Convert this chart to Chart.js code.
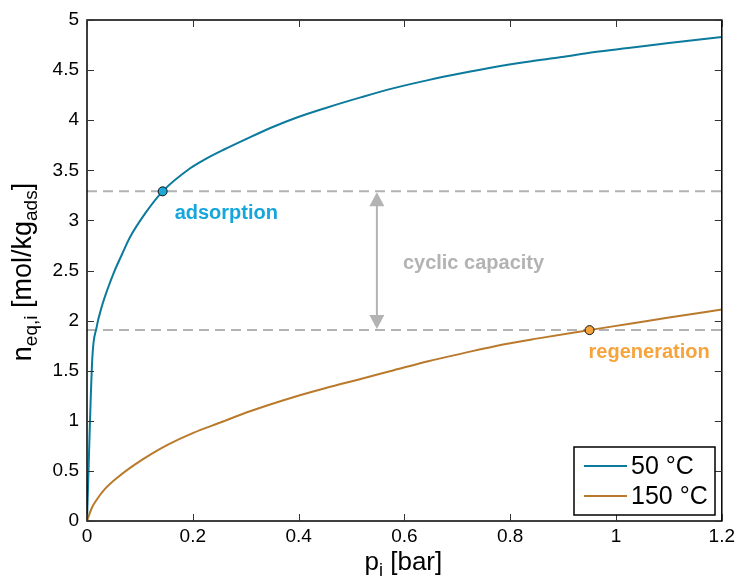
<!DOCTYPE html>
<html>
<head>
<meta charset="utf-8">
<script src="https://cdn.jsdelivr.net/npm/chart.js@4/dist/chart.umd.min.js"></script>
<style>
  html, body { margin: 0; padding: 0; background: #fff; }
  #wrap { width: 739px; height: 579px; position: relative; }
</style>
</head>
<body>
<div id="wrap"><canvas id="chart"></canvas></div>
<script>
// isotherm at 50 °C (pressure in bar, loading in mol/kg)
const p50 = [0, 0.01, 0.018, 0.028, 0.04, 0.05, 0.066, 0.081, 0.11, 0.143, 0.195, 0.223, 0.26, 0.3, 0.35, 0.393, 0.45, 0.519, 0.58, 0.645, 0.71, 0.771, 0.83, 0.897, 0.96, 1.023, 1.1, 1.2];
const n50 = [0, 1.62, 1.93, 2.14, 2.33, 2.47, 2.66, 2.83, 3.07, 3.29, 3.52, 3.61, 3.71, 3.81, 3.93, 4.02, 4.12, 4.23, 4.32, 4.40, 4.47, 4.53, 4.58, 4.63, 4.68, 4.72, 4.77, 4.83];

// isotherm at 150 °C
const p150 = [0, 0.009, 0.018, 0.034, 0.059, 0.091, 0.122, 0.154, 0.201, 0.248, 0.311, 0.393, 0.45, 0.519, 0.58, 0.645, 0.71, 0.771, 0.85, 0.949, 1.023, 1.1, 1.2];
const n150 = [0, 0.13, 0.21, 0.32, 0.44, 0.565, 0.67, 0.765, 0.88, 0.975, 1.10, 1.24, 1.325, 1.42, 1.505, 1.595, 1.673, 1.745, 1.82, 1.905, 1.966, 2.03, 2.11];

// operating points
const adsPoint = { p: 0.143, n: 3.29 };
const regPoint = { p: 0.95, n: 1.905 };
const arrowP = 0.548;

const xTicks = [0, 0.2, 0.4, 0.6, 0.8, 1, 1.2];
const yTicks = [0, 0.5, 1, 1.5, 2, 2.5, 3, 3.5, 4, 4.5, 5];

const blue = "#0b7a9c";
const brown = "#b97a2c";
const grey = "#b3b3b3";
const FONT = "'Liberation Sans', Arial, sans-serif";

const toXY = (xs, ys) => xs.map((x, i) => ({ x: x, y: ys[i] }));

// frame, inward ticks, arrow, text labels, legend and axis titles
const decor = {
  id: "decor",
  afterDatasetsDraw(chart) {
    const { ctx, chartArea: a, scales: { x, y } } = chart;
    ctx.save();

    // double arrow for cyclic capacity
    const ax = x.getPixelForValue(arrowP);
    const yTop = y.getPixelForValue(adsPoint.n);
    const yBot = y.getPixelForValue(regPoint.n);
    ctx.strokeStyle = grey; ctx.fillStyle = grey; ctx.lineWidth = 2;
    ctx.beginPath(); ctx.moveTo(ax, yTop + 12); ctx.lineTo(ax, yBot - 12); ctx.stroke();
    ctx.beginPath(); ctx.moveTo(ax, yTop + 1); ctx.lineTo(ax - 7.5, yTop + 15); ctx.lineTo(ax + 7.5, yTop + 15); ctx.closePath(); ctx.fill();
    ctx.beginPath(); ctx.moveTo(ax, yBot - 1); ctx.lineTo(ax - 7.5, yBot - 15); ctx.lineTo(ax + 7.5, yBot - 15); ctx.closePath(); ctx.fill();

    ctx.font = "bold 20px " + FONT;
    ctx.textBaseline = "middle";
    ctx.textAlign = "left";
    ctx.fillText("cyclic capacity", ax + 26, y.getPixelForValue(2.57));
    ctx.fillStyle = "#15a6db";
    ctx.fillText("adsorption", x.getPixelForValue(adsPoint.p) + 12, yTop + 22);
    ctx.fillStyle = "#f7a33c";
    ctx.fillText("regeneration", x.getPixelForValue(regPoint.p) - 1, yBot + 22);

    // box
    ctx.strokeStyle = "#000"; ctx.lineWidth = 1.5;
    ctx.strokeRect(a.left, a.top, a.right - a.left, a.bottom - a.top);

    // inward ticks on all four sides
    ctx.lineWidth = 1;
    ctx.strokeStyle = "#333";
    ctx.beginPath();
    xTicks.forEach(v => {
      const px = Math.round(x.getPixelForValue(v)) + 0.5;
      ctx.moveTo(px, a.bottom); ctx.lineTo(px, a.bottom - 7);
      ctx.moveTo(px, a.top); ctx.lineTo(px, a.top + 7);
    });
    yTicks.forEach(v => {
      const py = Math.round(y.getPixelForValue(v)) + 0.5;
      ctx.moveTo(a.left, py); ctx.lineTo(a.left + 7, py);
      ctx.moveTo(a.right, py); ctx.lineTo(a.right - 7, py);
    });
    ctx.stroke();

    // legend (from the two isotherm datasets)
    const items = chart.data.datasets.filter(d => d.inLegend);
    const lx = 574, ly = 447, lw = 141, lh = 68;
    ctx.fillStyle = "#fff";
    ctx.fillRect(lx, ly, lw, lh);
    ctx.strokeStyle = "#000"; ctx.lineWidth = 1.5;
    ctx.strokeRect(lx, ly, lw, lh);
    ctx.font = "25px " + FONT;
    ctx.textAlign = "left";
    items.forEach((d, i) => {
      const cy = ly + 19 + i * 30;
      ctx.strokeStyle = d.borderColor; ctx.lineWidth = 2;
      ctx.beginPath(); ctx.moveTo(lx + 10, cy); ctx.lineTo(lx + 53, cy); ctx.stroke();
      ctx.fillStyle = "#000";
      ctx.fillText(d.label, lx + 57, cy + 1);
    });

    // x axis title with subscript
    ctx.fillStyle = "#000";
    ctx.textBaseline = "alphabetic";
    const xt = [["p", 26, 0], ["i", 18, 6], [" [bar]", 26, 0]];
    drawRich(ctx, xt, (a.left + a.right) / 2 - 1, 570);

    // y axis title, rotated
    ctx.save();
    ctx.translate(31, 272);
    ctx.rotate(-Math.PI / 2);
    const yt = [["n", 27, 0], ["eq,i", 19, 6], [" [mol/kg", 27, 0], ["ads", 19, 6], ["]", 27, 0]];
    drawRich(ctx, yt, 0, 0);
    ctx.restore();

    ctx.restore();
  }
};

function drawRich(ctx, parts, cx, baseY) {
  let total = 0;
  parts.forEach(([t, s]) => { ctx.font = s + "px " + FONT; total += ctx.measureText(t).width; });
  let px = cx - total / 2;
  ctx.textAlign = "left";
  parts.forEach(([t, s, dy]) => {
    ctx.font = s + "px " + FONT;
    ctx.fillText(t, px, baseY + dy);
    px += ctx.measureText(t).width;
  });
}

new Chart(document.getElementById("chart"), {
  type: "scatter",
  data: {
    datasets: [
      { label: "adsorption point", data: [{ x: adsPoint.p, y: adsPoint.n }], pointRadius: 4.5, pointBackgroundColor: "#1ea8d8", pointBorderColor: "#111", pointBorderWidth: 1, order: 0 },
      { label: "regeneration point", data: [{ x: regPoint.p, y: regPoint.n }], pointRadius: 4.5, pointBackgroundColor: "#f7a33c", pointBorderColor: "#111", pointBorderWidth: 1, order: 0 },
      { label: "50 °C", inLegend: true, data: toXY(p50, n50), showLine: true, borderColor: blue, borderWidth: 2, pointRadius: 0, tension: 0.4, cubicInterpolationMode: "monotone", order: 1 },
      { label: "150 °C", inLegend: true, data: toXY(p150, n150), showLine: true, borderColor: brown, borderWidth: 2, pointRadius: 0, tension: 0.4, cubicInterpolationMode: "monotone", order: 1 },
      { label: "ads level", data: [{ x: 0, y: adsPoint.n }, { x: 1.2, y: adsPoint.n }], showLine: true, borderColor: grey, borderWidth: 2, borderDash: [10, 6], pointRadius: 0, order: 2 },
      { label: "reg level", data: [{ x: 0, y: regPoint.n }, { x: 1.2, y: regPoint.n }], showLine: true, borderColor: grey, borderWidth: 2, borderDash: [10, 6], pointRadius: 0, order: 2 }
    ]
  },
  options: {
    responsive: true,
    maintainAspectRatio: false,
    animation: false,
    events: [],
    layout: { padding: { top: 20, right: 17, left: 0, bottom: 0 } },
    plugins: { legend: { display: false }, tooltip: { enabled: false } },
    scales: {
      x: {
        type: "linear", min: 0, max: 1.2,
        afterBuildTicks: s => { s.ticks = xTicks.map(v => ({ value: v })); },
        afterFit: s => { s.height = 58; },
        grid: { display: false, drawTicks: false },
        border: { display: false },
        ticks: { color: "#000", padding: 4, font: { family: FONT, size: 19 }, maxRotation: 0, callback: v => String(v) }
      },
      y: {
        type: "linear", min: 0, max: 5,
        afterBuildTicks: s => { s.ticks = yTicks.map(v => ({ value: v })); },
        afterFit: s => { s.width = 87; },
        grid: { display: false, drawTicks: false },
        border: { display: false },
        ticks: { color: "#000", padding: 8, font: { family: FONT, size: 19 }, callback: v => String(v) }
      }
    }
  },
  plugins: [decor]
});
</script>
</body>
</html>
